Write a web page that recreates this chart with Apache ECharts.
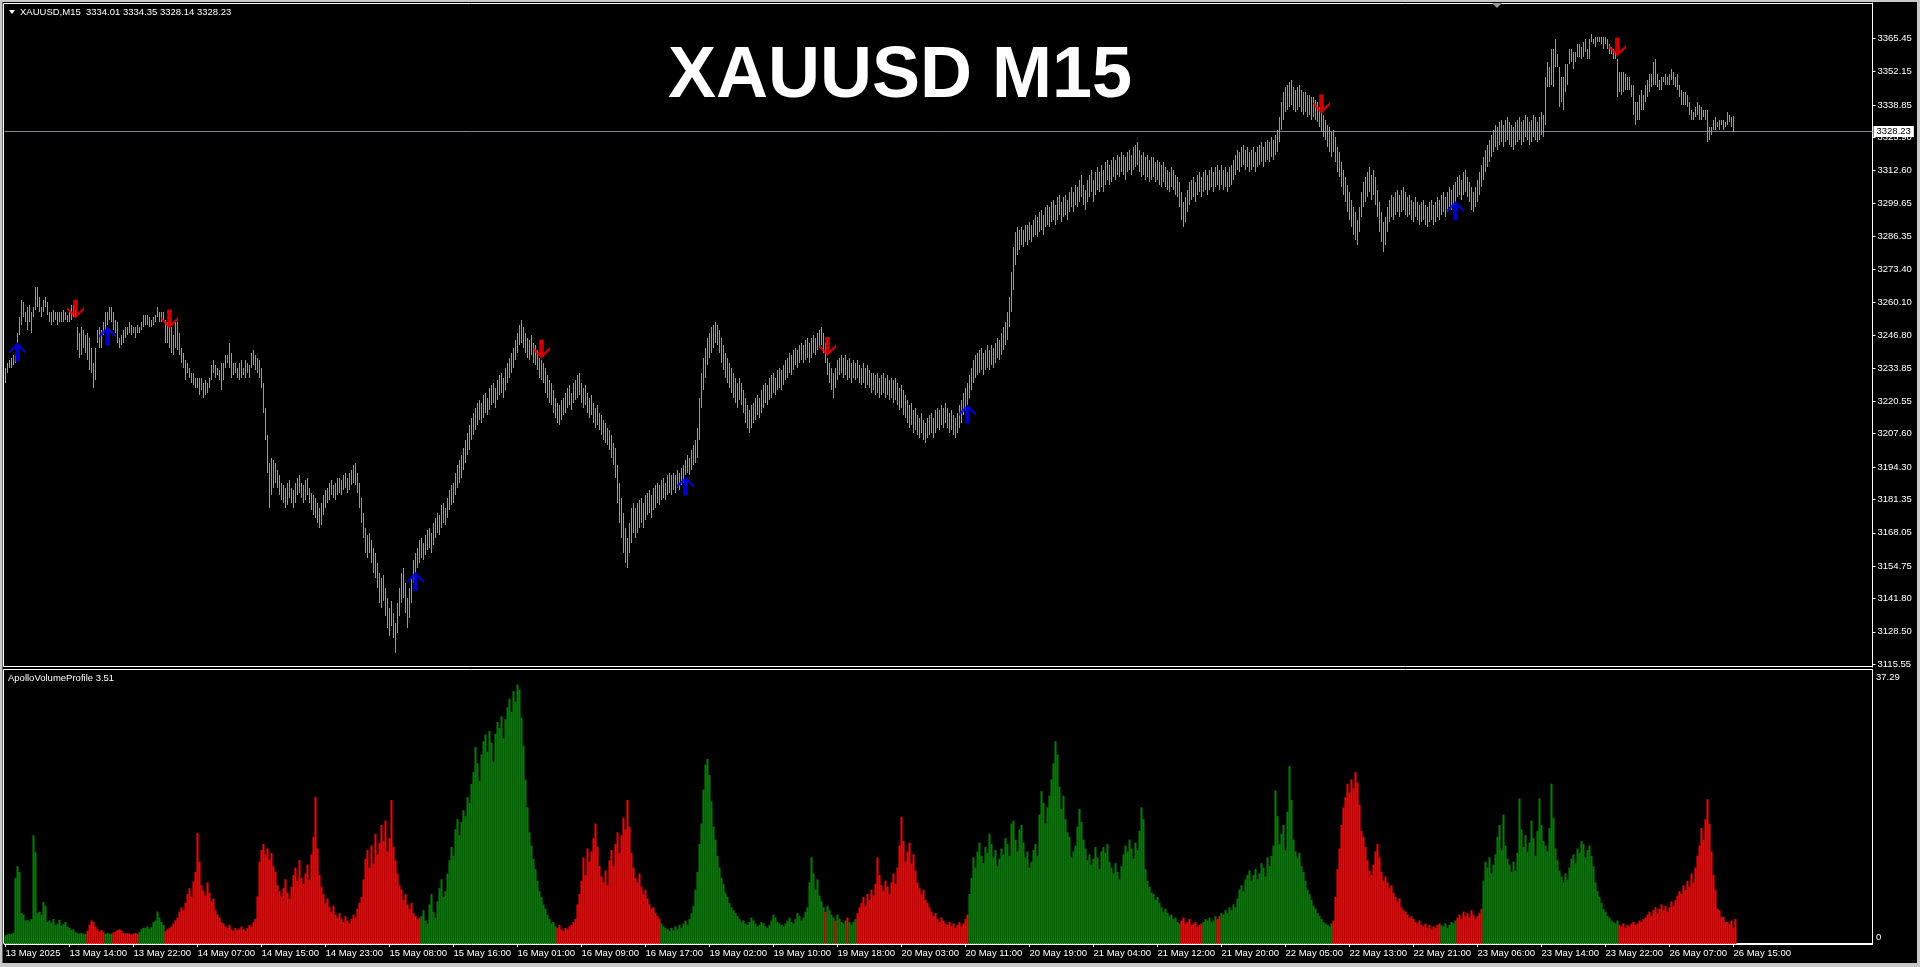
<!DOCTYPE html>
<html><head><meta charset="utf-8">
<script src="https://cdn.jsdelivr.net/npm/echarts@6/dist/echarts.min.js"></script>
<style>html,body{margin:0;padding:0;background:#000;overflow:hidden}#c{width:1920px;height:967px}</style>
</head><body><div id="c"></div>
<script>
const timeLabels = ['13 May 2025','13 May 14:00','13 May 22:00','14 May 07:00','14 May 15:00','14 May 23:00','15 May 08:00','15 May 16:00','16 May 01:00','16 May 09:00','16 May 17:00','19 May 02:00','19 May 10:00','19 May 18:00','20 May 03:00','20 May 11:00','20 May 19:00','21 May 04:00','21 May 12:00','21 May 20:00','22 May 05:00','22 May 13:00','22 May 21:00','23 May 06:00','23 May 14:00','23 May 22:00','26 May 07:00','26 May 15:00'];
const priceTicks = [3115.55,3128.50,3141.80,3154.75,3168.05,3181.35,3194.30,3207.60,3220.55,3233.85,3246.80,3260.10,3273.40,3286.35,3299.65,3312.60,3325.90,3338.85,3352.15,3365.45];
const headerText = 'XAUUSD,M15  3334.01 3334.35 3328.14 3328.23';
const chartTitle = 'XAUUSD M15';
const volumeLabel = 'ApolloVolumeProfile 3.51';
const lastPrice = 3328.23;
const volMax = 37.29;

const lows = [
3228,3232,3234,3234,3235,3236,3244,3247,3251,3254,
3252,3249,3252,3248,3254,3257,3258,3256,3254,3256,
3258,3255,3252,3251,3252,3253,3251,3252,3252,3252,
3253,3252,3252,3253,3254,3254,3241,3238,3239,3242,
3240,3237,3233,3232,3226,3229,3244,3242,3242,3247,
3249,3251,3253,3252,3249,3248,3244,3242,3243,3244,
3246,3247,3248,3247,3248,3246,3248,3248,3249,3250,
3251,3251,3250,3250,3251,3252,3254,3252,3252,3253,
3244,3244,3242,3240,3239,3242,3241,3239,3236,3234,
3229,3232,3230,3228,3227,3226,3226,3223,3225,3222,
3223,3224,3226,3229,3232,3230,3231,3229,3225,3229,
3234,3236,3234,3230,3231,3232,3230,3229,3230,3231,3230,3232,3230,
3234,3235,3233,3232,3230,3226,
3216,3205,3192,3178,3183,3186,3188,
3186,3183,3181,3180,3178,3179,3182,3180,3178,3180,3183,3184,3182,3180,3181,3183,3180,3177,3175,3174,3172,3170,3171,3175,3178,
3180,3181,3183,3182,3181,3183,3184,3183,3185,3186,3184,3185,3187,3188,3187,3184,
3178,3172,3166,3160,3158,3160,3156,3152,3150,3146,3140,3138,3141,3135,3130,3127,3131,3126,3120,
3128,3135,3140,3142,3136,3130,3134,3140,3148,3152,3154,
3156,3158,3157,3159,3161,3162,3160,3163,3166,3168,3167,3170,3172,3171,3174,3177,3179,3180,3183,3186,
3188,3190,3193,3196,3199,3201,3205,3207,3209,3211,3213,3212,3214,3216,3215,3217,3219,3220,3218,3221,
3223,3224,3222,3225,3228,3230,3232,3234,3237,3240,3243,3244,
3242,3240,3238,3237,3239,3236,3235,3233,3230,3229,3228,3224,3222,3220,
3219,3216,3214,3212,3211,3213,3215,3216,3218,3219,3217,3220,3221,3222,3223,3220,3218,3219,3216,3214,3215,3212,3210,3211,3209,3207,3205,3204,
3203,3201,3198,3195,3190,3180,3172,3166,3160,3156,3154,3160,3164,3168,3166,
3168,3170,3172,3170,3173,3175,3176,3174,3177,3178,3180,3179,3181,3182,3181,3183,3184,3183,3185,3184,3186,3185,3187,3188,3191,3192,3191,3193,3195,3196,
3198,3205,3218,3225,3230,3235,3238,3240,3242,3244,3243,3240,
3236,3233,3230,3228,3226,3224,3222,3220,3218,3221,3219,3216,3212,3210,3208,
3210,3212,3213,3215,3214,3216,3218,3220,3219,3221,3222,3224,3223,3225,3226,3225,3227,3229,3230,3232,3231,3233,3235,3234,3236,3237,3236,3237,3238,3236,3238,3240,3239,3241,3242,3243,
3240,3236,3231,3228,3225,3222,3226,3229,3231,3232,3230,3231,
3229,3230,3228,3230,3229,3230,3228,3227,3228,3226,3227,3226,3224,3225,3223,3224,3222,3223,3224,3222,3223,3221,3222,3220,3221,3219,3217,3218,3215,3214,
3212,3210,3211,3208,3209,3207,3206,3208,3205,3204,3206,3207,3208,3206,3208,3210,3209,3211,3210,3212,3210,3208,3209,3207,3206,3208,3210,3212,3215,3217,3219,
3222,3225,3228,3230,3231,3232,3233,3231,3233,3234,3233,3235,3234,3236,3238,3237,3239,3241,3243,3245,3250,3256,3265,3275,3279,
3281,3283,3282,3284,3283,3285,3284,3286,3287,3286,3288,3289,3287,3290,3291,3290,3292,3293,3291,3293,3295,3292,3294,3295,3293,3296,3298,3296,3299,3298,
3300,3302,3299,3297,3300,3302,3304,3300,3303,3305,3304,3306,3304,3307,3309,3307,3308,3310,3309,3311,3310,3312,3311,3309,3312,3313,3311,3313,3314,3315,
3312,3310,3311,3309,3310,3308,3309,3310,3308,3309,3307,3306,3308,3306,3305,3304,3306,3305,3303,3302,3298,3293,3290,3292,3296,3299,3301,3302,3300,3303,3304,3302,3304,3305,
3303,3305,3306,3304,3306,3307,3305,3307,3305,3306,3304,3306,3307,3309,3311,3313,3312,3314,3315,3313,3314,3312,3313,3314,3312,3314,3315,3316,3314,3316,3317,3316,3318,3317,3319,3320,
3324,3329,3333,3336,3337,3338,3339,3337,3336,3337,3338,3336,3335,3336,3334,3335,3333,3334,3333,3332,3330,3328,3326,3325,
3322,3320,3318,3320,3316,3312,3310,3306,3303,3300,3296,3293,3290,3287,3285,3283,3288,3294,3298,3300,3302,3304,3301,3303,3299,3294,3288,3284,3280,3283,3288,3292,3294,3293,3295,3296,3294,3296,3297,3295,
3294,3295,3293,3292,3294,3293,3291,3292,3293,3291,3290,3292,3293,3291,3292,3294,3293,3295,3296,3294,3296,3298,3297,3299,3300,3302,3303,3301,3303,3304,3302,3300,3297,3296,3298,3300,3303,3306,3309,3312,
3314,3316,3318,3320,3322,3321,3323,3324,3322,3324,3325,3323,3322,3321,3323,3324,3325,3323,3324,3326,3325,3323,3324,3326,3325,3324,3325,3327,3326,
3331,3346,3346,3347,3346,3354,3354,3338,3340,3337,3344,3347,3355,3356,3353,3356,3358,3358,3357,3358,3360,3357,3357,3364,3363,3362,3364,3364,3363,3361,
3363,3361,3359,3359,3357,3357,3342,3344,3343,3344,3345,3345,3345,3342,3335,3331,3333,3333,3337,3337,3340,3342,3344,3346,3347,3347,3346,3345,3345,3348,
3347,3347,3347,3349,3347,3346,3345,3342,3339,3339,3339,3338,3335,3333,3333,3334,3335,3333,3333,3334,3333,3324,3325,3327,3329,3329,3330,3329,3331,3329,
3330,3331,3332,3330,3328.14
];
const highs = [
3234,3236,3237,3238,3239,3239,3248,3254,3261,3260,
3256,3258,3259,3256,3258,3266,3266,3262,3258,3261,
3262,3260,3256,3256,3257,3256,3256,3256,3256,3257,
3256,3255,3256,3259,3259,3257,3250,3248,3250,3249,
3247,3248,3246,3242,3236,3242,3249,3250,3249,3252,
3256,3256,3258,3258,3256,3253,3252,3246,3247,3249,
3250,3250,3252,3251,3250,3250,3251,3250,3252,3255,
3255,3255,3254,3253,3254,3255,3258,3256,3256,3256,
3253,3252,3250,3250,3247,3252,3252,3248,3242,3240,
3237,3236,3234,3232,3232,3230,3230,3230,3230,3228,
3229,3228,3230,3235,3237,3235,3234,3233,3236,3236,
3239,3239,3244,3240,3236,3236,3234,3236,3237,3234,3237,3236,3235,
3240,3241,3239,3238,3237,3234,
3228,3218,3207,3196,3198,3197,3196,
3193,3191,3188,3187,3186,3188,3189,3186,3185,3188,3190,3191,3188,3187,3189,3190,3186,3184,3183,3182,3180,3178,3180,3183,3185,
3186,3188,3189,3187,3188,3190,3190,3189,3191,3192,3190,3192,3193,3195,3196,3192,
3188,3182,3176,3170,3167,3168,3165,3162,3160,3156,3152,3150,3151,3146,3142,3138,3141,3136,3132,
3140,3146,3152,3154,3148,3142,3146,3150,3157,3160,3162,
3165,3166,3164,3167,3169,3170,3168,3172,3174,3176,3175,3179,3180,3178,3182,3185,3187,3188,3192,3195,
3197,3199,3202,3205,3208,3211,3214,3216,3218,3220,3221,3220,3223,3224,3222,3226,3227,3228,3226,3229,
3231,3232,3230,3234,3236,3238,3240,3242,3245,3248,3251,3253,
3250,3248,3246,3245,3247,3244,3243,3241,3238,3237,3236,3234,3231,3229,
3228,3225,3222,3220,3219,3221,3222,3224,3226,3227,3224,3228,3229,3231,3232,3228,3226,3227,3224,3222,3223,3220,3218,3219,3216,3215,3213,3212,
3210,3209,3207,3204,3202,3195,3188,3182,3176,3170,3166,3172,3178,3180,3178,
3180,3181,3182,3180,3183,3184,3185,3183,3186,3187,3188,3187,3189,3190,3188,3191,3192,3191,3192,3191,3193,3192,3194,3195,3197,3199,3198,3201,3203,3205,
3210,3222,3232,3238,3242,3246,3248,3250,3251,3252,3251,3249,
3246,3243,3240,3238,3236,3234,3232,3230,3228,3230,3228,3225,3222,3219,3217,
3219,3220,3222,3223,3222,3225,3227,3228,3227,3230,3231,3232,3230,3233,3234,3233,3235,3237,3238,3240,3239,3241,3242,3241,3243,3244,3243,3245,3246,3244,3246,3247,3246,3248,3249,3250,
3248,3244,3238,3236,3234,3232,3234,3237,3238,3239,3238,3239,
3237,3238,3236,3237,3236,3237,3235,3234,3236,3234,3235,3233,3232,3232,3231,3232,3230,3231,3232,3230,3231,3229,3230,3229,3230,3228,3226,3227,3225,3223,
3221,3219,3220,3217,3218,3215,3214,3216,3213,3212,3214,3215,3216,3214,3217,3218,3217,3219,3218,3220,3218,3216,3217,3215,3214,3216,3219,3221,3224,3226,3228,
3231,3234,3237,3239,3240,3241,3242,3240,3241,3243,3241,3243,3242,3244,3246,3245,3248,3250,3252,3256,3262,3272,3282,3288,3290,
3289,3290,3289,3291,3291,3292,3291,3293,3295,3294,3296,3297,3295,3298,3299,3298,3300,3301,3299,3302,3303,3300,3302,3303,3301,3304,3306,3304,3307,3306,
3309,3311,3307,3305,3309,3311,3313,3309,3312,3314,3312,3315,3313,3316,3317,3315,3317,3318,3317,3319,3318,3320,3319,3318,3320,3321,3319,3322,3323,3324,
3321,3319,3320,3318,3319,3317,3318,3318,3316,3317,3316,3315,3316,3314,3313,3312,3314,3313,3311,3310,3308,3304,3300,3302,3305,3308,3309,3310,3308,3311,3312,3310,3312,3313,
3311,3313,3314,3312,3314,3315,3313,3315,3313,3314,3312,3314,3315,3317,3319,3321,3320,3322,3323,3321,3322,3320,3321,3322,3320,3322,3323,3324,3322,3324,3325,3324,3326,3325,3327,3329,
3334,3340,3344,3346,3347,3348,3349,3346,3345,3346,3347,3345,3344,3344,3343,3343,3342,3342,3341,3340,3338,3336,3335,3333,
3331,3330,3328,3329,3326,3322,3320,3316,3313,3310,3307,3304,3301,3298,3296,3293,3298,3304,3308,3310,3312,3314,3311,3313,3310,3305,3300,3296,3292,3294,3298,3301,3303,3302,3304,3305,3303,3305,3306,3304,
3302,3303,3301,3300,3302,3300,3299,3300,3301,3299,3298,3300,3301,3299,3300,3302,3301,3303,3304,3302,3304,3306,3305,3307,3308,3310,3311,3309,3312,3313,3310,3308,3306,3304,3306,3309,3312,3315,3318,3321,
3323,3325,3327,3329,3331,3330,3332,3333,3331,3333,3334,3332,3331,3330,3332,3333,3334,3332,3333,3335,3334,3332,3333,3335,3334,3332,3334,3336,3335,
3350,3356,3354,3361,3361,3365,3359,3354,3350,3350,3355,3355,3361,3361,3360,3360,3363,3363,3362,3364,3365,3361,3365,3367,3365,3366,3366,3366,3366,3366,
3366,3365,3363,3362,3361,3360,3357,3352,3352,3352,3351,3350,3350,3347,3347,3340,3340,3343,3345,3343,3347,3349,3351,3351,3356,3357,3351,3349,3350,3350,
3351,3350,3351,3353,3352,3350,3351,3347,3345,3344,3344,3343,3340,3337,3336,3338,3340,3339,3338,3337,3337,3337,3330,3330,3333,3334,3332,3333,3333,3333,
3332,3336,3335,3334,3334.35
];
const volumes = [
1.2,1.3,1.4,1.4,1.5,9.0,10.6,9.8,4.2,4.0,
3.2,3.3,3.1,3.4,14.8,12.5,4.2,4.4,4.0,5.7,
5.2,3.0,3.2,2.9,3.4,2.6,2.8,3.3,2.5,2.7,
3.0,2.4,2.2,1.9,2.0,1.6,1.5,1.4,1.5,1.4,
1.4,1.8,2.6,3.2,3.0,2.4,2.0,1.7,1.9,1.6,
1.4,1.5,1.4,1.4,1.6,1.7,1.9,2.0,1.8,1.5,
1.4,1.5,1.4,1.3,1.4,1.5,1.4,1.6,2.0,2.2,
2.2,2.4,2.1,2.3,3.0,3.2,4.4,3.6,3.0,2.6,
1.8,2.0,2.2,2.4,2.8,3.2,3.6,4.4,5.0,4.6,
5.6,6.8,7.6,6.4,8.5,9.8,15.1,11.2,8.0,7.2,
6.6,8.4,7.0,5.8,6.2,4.6,4.0,3.6,3.0,2.8,
2.4,2.2,2.6,2.0,1.8,2.2,1.9,2.1,2.4,2.0,1.8,2.2,2.6,2.4,3.0,3.4,
6.5,11.2,12.8,13.6,12.2,13.0,11.5,12.4,10.6,9.8,
8.0,7.2,6.4,7.6,8.8,7.0,6.2,7.8,9.4,10.4,8.6,11.4,9.0,8.2,
9.6,10.8,8.8,12.2,14.6,20.0,13.0,9.4,7.8,
6.8,5.6,6.2,5.0,4.4,5.2,4.0,3.6,4.2,3.4,3.0,3.8,3.2,2.8,3.4,4.0,3.6,4.8,5.6,6.4,
8.8,11.6,12.8,10.4,13.4,11.0,15.0,12.2,13.8,16.2,
14.0,16.8,12.6,14.4,19.6,13.2,11.4,9.6,8.0,
7.4,6.0,6.8,5.4,4.8,5.6,4.2,3.8,3.4,3.6,
3.8,4.6,3.2,2.8,5.4,6.8,4.4,3.6,5.8,7.6,8.8,6.4,7.2,
9.6,11.4,13.2,12.0,15.6,17.0,14.8,16.6,18.2,17.4,20.0,19.2,
21.8,23.4,26.8,24.6,22.2,25.8,27.6,28.5,26.2,29.0,27.4,24.8,28.6,
30.2,29.4,31.0,28.0,30.6,32.2,33.4,31.6,34.4,33.0,35.3,34.6,30.8,
27.0,22.4,18.6,15.2,13.4,11.6,10.2,8.6,7.2,6.4,5.4,4.8,
4.0,3.4,2.8,3.0,2.4,2.2,2.6,2.0,1.8,2.2,2.0,2.4,2.6,3.0,3.4,
5.4,6.8,8.6,11.8,9.4,13.0,11.2,12.6,14.4,16.4,13.2,10.6,
9.2,8.4,10.0,8.0,11.4,12.8,10.6,13.6,15.2,12.4,14.8,17.2,15.6,19.6,16.0,12.4,
10.4,9.0,8.4,9.6,7.8,6.8,7.4,6.2,5.4,4.8,5.0,4.2,3.8,3.4,
2.8,2.4,2.2,2.0,1.8,2.2,1.9,2.4,2.0,2.6,2.2,2.8,3.2,2.6,3.4,4.2,5.2,7.4,9.8,
13.6,16.4,21.0,24.4,25.2,23.0,19.4,16.0,14.2,12.0,10.4,9.0,
8.2,7.0,6.4,5.6,5.0,4.6,4.2,3.8,
3.4,3.0,3.2,2.8,2.6,3.0,3.6,3.2,2.8,2.4,2.6,3.0,2.8,2.4,2.2,2.6,3.2,4.0,3.6,3.0,2.8,2.6,2.4,2.8,3.2,3.6,3.0,2.8,3.4,4.2,3.8,3.2,3.6,4.4,5.0,
8.4,11.8,9.6,7.4,8.8,6.6,5.8,5.0,4.4,5.2,4.6,4.0,
3.6,3.2,4.0,3.4,3.0,2.8,3.2,3.6,3.0,2.6,3.0,3.4,4.2,
5.0,5.6,6.4,5.2,6.8,6.0,7.4,6.6,8.2,11.8,9.4,
8.0,7.2,8.6,7.8,6.8,8.4,9.6,8.2,10.4,
13.4,17.3,14.0,11.2,12.6,13.8,11.0,12.2,10.0,
8.4,7.6,6.8,7.4,6.0,5.6,5.0,
4.4,3.8,4.2,3.4,3.0,3.6,3.2,2.8,2.6,3.0,2.4,2.8,2.2,2.6,3.0,2.4,2.8,3.4,4.0,
6.8,9.0,11.8,10.4,12.6,13.8,12.0,11.0,13.2,12.4,15.0,13.6,11.8,12.8,10.6,11.6,13.0,12.2,14.4,13.6,12.0,16.4,16.8,14.2,12.6,
15.6,16.2,13.8,11.8,12.6,10.4,11.2,12.8,13.6,12.0,17.6,20.8,19.2,16.4,18.6,
20.2,22.4,24.6,27.6,25.8,21.4,18.4,20.2,17.0,15.2,14.6,
11.8,12.6,13.4,16.0,18.4,16.6,14.2,13.0,11.4,12.2,10.8,11.6,13.2,11.8,10.2,12.6,
13.2,12.4,13.6,11.2,10.4,9.6,11.0,9.8,8.8,10.6,12.2,13.4,12.6,14.2,13.0,11.6,13.8,12.8,15.4,18.6,17.0,10.2,
8.6,7.8,7.0,6.8,6.0,6.4,5.6,5.0,4.4,4.8,4.2,3.8,4.0,3.4,3.6,3.0,2.8,
3.2,3.6,2.8,3.0,3.4,2.6,2.8,3.0,2.4,2.6,2.8,3.0,3.4,3.2,3.6,3.0,3.2,3.8,3.4,
3.8,4.2,4.0,4.6,4.2,5.0,4.6,5.4,5.0,6.2,7.4,8.0,7.2,8.8,9.4,
10.0,8.6,9.4,10.2,8.8,9.6,11.0,10.4,9.2,11.8,10.6,12.0,13.4,20.9,17.4,13.6,15.0,16.2,12.8,18.0,24.2,19.6,14.2,
12.6,11.8,12.4,10.6,9.8,8.6,7.4,6.8,6.0,5.2,4.8,4.2,3.8,3.4,3.0,2.8,2.6,2.4,2.8,3.2,
6.4,10.2,13.0,16.2,18.6,20.0,21.8,20.6,22.4,21.2,23.4,22.0,19.0,15.4,14.6,13.2,11.4,10.0,9.4,10.8,12.6,13.6,11.8,9.8,8.6,9.2,
8.4,7.6,8.0,7.0,6.4,5.8,6.2,5.0,4.6,4.4,4.0,3.6,3.8,3.4,3.0,2.8,3.2,2.6,2.4,2.8,2.2,2.6,2.0,2.4,2.2,2.6,2.8,
2.6,2.4,2.8,2.2,2.6,3.0,2.8,3.2,3.6,4.0,3.4,4.4,3.8,4.2,3.6,4.6,4.0,3.4,3.8,4.2,4.8,
8.6,11.2,10.4,11.8,9.6,10.8,12.2,14.6,16.2,12.8,17.6,13.4,11.6,10.8,9.8,11.2,10.0,12.4,19.8,15.6,13.2,14.8,12.6,13.8,16.8,14.4,12.0,15.4,19.8,16.2,14.0,13.4,12.6,15.8,21.8,17.2,13.0,11.4,
10.0,9.2,8.4,9.6,8.8,10.4,11.6,12.2,11.0,13.0,12.4,14.0,13.6,11.8,12.8,13.4,12.0,10.6,8.4,7.2,6.4,5.6,4.8,4.4,3.8,3.6,3.2,3.0,2.8,3.2,
2.6,2.4,2.8,2.2,2.6,2.4,2.8,3.0,2.6,2.8,3.2,3.0,3.4,3.6,
4.0,4.4,3.8,4.6,5.0,4.2,4.8,5.4,4.6,5.2,4.4,5.0,5.8,5.2,6.0,6.6,
7.2,6.8,8.0,7.4,8.6,7.8,9.6,8.4,10.4,
12.0,13.4,15.8,14.2,17.0,19.7,16.4,12.6,9.4,7.4,4.8,
4.6,3.7,3.7,3.0,3.0,2.7,3.2,2.2,3.4
];
// volume colour runs: bar index where a run starts, and whether it is an up (green) run
const volRunStart = [0,41,50,54,67,80,208,276,328,410,411,415,416,421,422,426,482,588,599,606,608,664,718,726,739,807];
const volRunUp    = [1,0,1,0,1,0,1,0,1,0,1,0,1,0,1,0,1,0,1,0,1,0,1,0,1,0];
const upArrowIdx = [6,51,205,340,481,725];
const upArrowPrice = [3240.2,3246.6,3148.6,3186.7,3215.5,3296.7];
const downArrowIdx = [35,82,268,411,658,806];
const downArrowPrice = [3257.4,3253.4,3241.4,3242.4,3339.2,3362.0];

// ---- layout ----
const SLOTS = 934; // 2px per bar slot across plot width
const BAR_GREEN = '#22ee22', VOL_GREEN = '#008000', VOL_RED = '#ff0000';
const FONT = '"Liberation Sans", Arial, sans-serif';

const categories = [];
for (let i = 0; i < SLOTS; i++) categories.push(i % 32 === 0 && timeLabels[i / 32] ? timeLabels[i / 32] : '');
const isLabelIdx = (i) => i % 32 === 0 && i / 32 < timeLabels.length;

const nBars = Math.min(lows.length, highs.length);
const priceData = [];
for (let i = 0; i < nBars; i++) priceData.push([i, lows[i], highs[i]]);

function volUp(i) { let r = 0; for (let k = 0; k < volRunStart.length; k++) if (volRunStart[k] <= i) r = k; return volRunUp[r]; }
const volData = volumes.map((v, i) => ({ value: v, itemStyle: { color: volUp(i) ? VOL_GREEN : VOL_RED } }));

const upPath = 'path://M8.5,0 L17,8.5 L17,11.5 L10.8,5.8 L10.8,19 L6.2,19 L6.2,5.8 L0,11.5 L0,8.5 Z';
const downPath = 'path://M8.5,19 L17,10.5 L17,7.5 L10.8,13.2 L10.8,0 L6.2,0 L6.2,13.2 L0,7.5 L0,10.5 Z';

const chart = echarts.init(document.getElementById('c'), null, { renderer: 'canvas' });
const option = {
  backgroundColor: '#000',
  animation: false,
  grid: [
    { left: 4.5, top: 3, width: 1868, height: 664, outerBoundsMode: 'none', containLabel: false },
    { left: 4.5, top: 670, width: 1868, height: 274, outerBoundsMode: 'none', containLabel: false }
  ],
  xAxis: [
    { type: 'category', gridIndex: 0, data: categories, boundaryGap: true,
      axisLine: { show: false }, axisTick: { show: false }, axisLabel: { show: false }, splitLine: { show: false } },
    { type: 'category', gridIndex: 1, data: categories, boundaryGap: true,
      axisLine: { show: true, lineStyle: { color: '#fff', width: 1 } },
      axisTick: { show: true, alignWithLabel: true, length: 3, interval: (i) => isLabelIdx(i), lineStyle: { color: '#fff' } },
      axisLabel: { show: true, interval: (i) => isLabelIdx(i), align: 'left', margin: 4, color: '#fff', fontSize: 9.5, fontFamily: FONT },
      splitLine: { show: false } }
  ],
  yAxis: [
    { type: 'value', gridIndex: 0, position: 'right', min: 3114.47, max: 3379.54, scale: true,
      axisLine: { show: true, lineStyle: { color: '#fff' } },
      axisTick: { show: true, length: 3, inside: false, customValues: priceTicks, lineStyle: { color: '#fff' } },
      axisLabel: { show: true, customValues: priceTicks, margin: 5, color: '#fff', fontSize: 9.5, fontFamily: FONT, formatter: (v) => v.toFixed(2) },
      splitLine: { show: false } },
    { type: 'value', gridIndex: 1, position: 'right', min: 0, max: volMax,
      axisLine: { show: true, lineStyle: { color: '#fff' } },
      axisTick: { show: false }, axisLabel: { show: false }, splitLine: { show: false } }
  ],
  series: [
    { type: 'custom', xAxisIndex: 0, yAxisIndex: 0, data: priceData, z: 3,
      encode: { x: 0, y: [1, 2] },
      renderItem: function (params, api) {
        const a = api.coord([api.value(0), api.value(1)]);
        const b = api.coord([api.value(0), api.value(2)]);
        const x = Math.floor(a[0]) + 0.5;
        return { type: 'line', shape: { x1: x, y1: Math.round(a[1]), x2: x, y2: Math.round(b[1]) }, style: { stroke: BAR_GREEN, lineWidth: 1 } };
      } },
    { type: 'scatter', xAxisIndex: 0, yAxisIndex: 0, z: 4, symbol: upPath, symbolSize: [17, 19],
      itemStyle: { color: '#0000ff' }, data: upArrowIdx.map((x, k) => [x, upArrowPrice[k]]),
      markLine: { silent: true, symbol: ['none', 'none'], z: 1,
        lineStyle: { color: '#778899', width: 1, type: 'solid' },
        label: { show: true, position: 'end', distance: 1, formatter: () => lastPrice.toFixed(2), color: '#000', backgroundColor: '#fff', fontSize: 9.5, fontFamily: FONT, padding: [1, 3, 0, 3] },
        data: [{ yAxis: lastPrice }] } },
    { type: 'scatter', xAxisIndex: 0, yAxisIndex: 0, z: 4, symbol: downPath, symbolSize: [17, 19],
      itemStyle: { color: '#ff0000' }, data: downArrowIdx.map((x, k) => [x, downArrowPrice[k]]) },
    { type: 'bar', xAxisIndex: 1, yAxisIndex: 1, data: volData, barWidth: 2, barCategoryGap: 0, barGap: 0 }
  ],
  graphic: [
    { type: 'rect', shape: { x: 0, y: 0, width: 1920, height: 2 }, style: { fill: '#c8c8c8' }, silent: true },
    { type: 'rect', shape: { x: 0, y: 0, width: 2.5, height: 967 }, style: { fill: '#c8c8c8' }, silent: true },
    { type: 'rect', shape: { x: 0, y: 963, width: 1920, height: 4 }, style: { fill: '#c8c8c8' }, silent: true },
    { type: 'rect', shape: { x: 1917, y: 0, width: 3, height: 967 }, style: { fill: '#c8c8c8' }, silent: true },
    { type: 'rect', shape: { x: 3.5, y: 3.5, width: 1869, height: 663 }, style: { fill: 'none', stroke: '#fff', lineWidth: 1 }, silent: true },
    { type: 'rect', shape: { x: 3.5, y: 669.5, width: 1869, height: 274 }, style: { fill: 'none', stroke: '#fff', lineWidth: 1 }, silent: true },
    { type: 'polygon', shape: { points: [[1492, 3], [1502, 3], [1497, 8]] }, style: { fill: '#9a9a9a' }, silent: true },
    { type: 'polygon', shape: { points: [[9, 10], [15, 10], [12, 14]] }, style: { fill: '#fff' }, silent: true },
    { type: 'text', x: 20, y: 12, style: { text: headerText, fill: '#fff', font: '9.5px ' + FONT, textVerticalAlign: 'middle', verticalAlign: 'middle' }, silent: true },
    { type: 'text', x: 8, y: 678, style: { text: volumeLabel, fill: '#fff', font: '9.5px ' + FONT, textVerticalAlign: 'middle', verticalAlign: 'middle' }, silent: true },
    { type: 'text', x: 1876, y: 677, style: { text: volMax.toFixed(2), fill: '#fff', font: '9.5px ' + FONT, textVerticalAlign: 'middle', verticalAlign: 'middle' }, silent: true },
    { type: 'text', x: 1876, y: 937, style: { text: '0', fill: '#fff', font: '9.5px ' + FONT, textVerticalAlign: 'middle', verticalAlign: 'middle' }, silent: true },
    { type: 'text', x: 900, y: 77, style: { text: chartTitle, fill: '#fff', font: 'bold 72px ' + FONT, textAlign: 'center', align: 'center', textVerticalAlign: 'middle', verticalAlign: 'middle' }, silent: true }
  ]
};
chart.setOption(option);
</script>
</body></html>
